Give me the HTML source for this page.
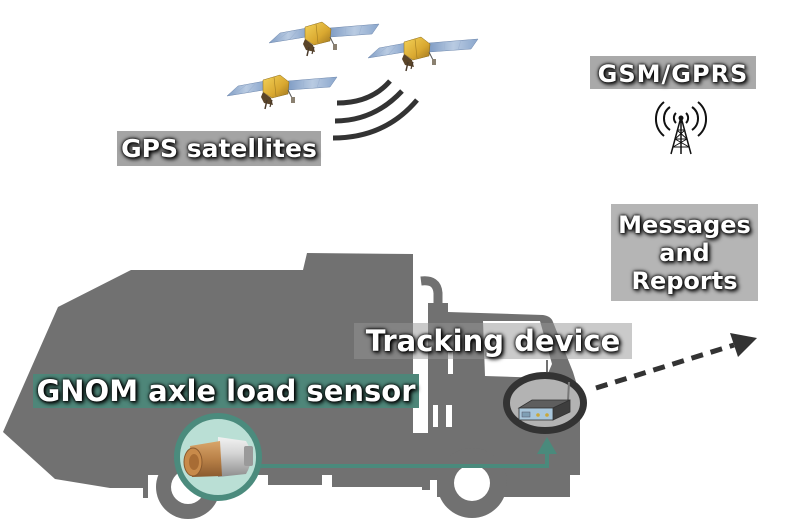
<!DOCTYPE html>
<html><head><meta charset="utf-8">
<style>
html,body{margin:0;padding:0;background:#fff;}
#wrap{position:relative;width:800px;height:525px;overflow:hidden;background:#fff;}
svg{position:absolute;left:0;top:0;}
.lbl{position:absolute;font-family:"DejaVu Sans","Liberation Sans",sans-serif;font-weight:bold;color:#fff;text-align:center;white-space:nowrap;
text-shadow:0 0 2px #000,0 0 4px #000,2px 2px 4px #000;}
</style></head><body>
<div id="wrap">
<svg width="800" height="525" viewBox="0 0 800 525">
<defs>
<linearGradient id="pan" x1="0" y1="0" x2="1" y2="0">
<stop offset="0" stop-color="#7f9cc4"/><stop offset="0.5" stop-color="#b9cbe2"/><stop offset="1" stop-color="#8aa6cc"/>
</linearGradient>
<linearGradient id="gold" x1="0" y1="0" x2="1" y2="1">
<stop offset="0" stop-color="#f4d35a"/><stop offset="0.6" stop-color="#d9a830"/><stop offset="1" stop-color="#9c7420"/>
</linearGradient>
<linearGradient id="silver" x1="0" y1="0" x2="0" y2="1">
<stop offset="0" stop-color="#f2f2f2"/><stop offset="0.4" stop-color="#d5d5d5"/><stop offset="1" stop-color="#8d8d8d"/>
</linearGradient>
<linearGradient id="brass" x1="0" y1="0" x2="0" y2="1">
<stop offset="0" stop-color="#d9a66a"/><stop offset="0.5" stop-color="#b98148"/><stop offset="1" stop-color="#8a5a2e"/>
</linearGradient>
<g id="sat">
<polygon points="-49,8 -38,-2 -11,-7 -12,2" fill="url(#pan)" stroke="#6f88ad" stroke-width="0.5"/>
<line x1="-40" y1="5" x2="-30" y2="-3" stroke="#9fb4d2" stroke-width="0.6"/>
<line x1="-28" y1="4" x2="-20" y2="-5" stroke="#9fb4d2" stroke-width="0.6"/>
<polygon points="12,-7 61,-11 54,-1 12,2" fill="url(#pan)" stroke="#6f88ad" stroke-width="0.5"/>
<line x1="28" y1="-8" x2="27" y2="1" stroke="#9fb4d2" stroke-width="0.6"/>
<line x1="44" y1="-10" x2="41" y2="0" stroke="#9fb4d2" stroke-width="0.6"/>
<polygon points="-13,4 -5,10 -3,17 -12,15 -15,9" fill="#5a4428"/>
<line x1="-9" y1="12" x2="-11" y2="21" stroke="#4a3a2a" stroke-width="1.5"/>
<line x1="-4" y1="12" x2="-6" y2="19" stroke="#4a3a2a" stroke-width="1.2"/>
<polygon points="-13,-8 4,-13 13,-6 12,6 -4,10 -13,4" fill="url(#gold)" stroke="#8a6a1a" stroke-width="0.5"/>
<line x1="-2" y1="-11" x2="0" y2="8" stroke="#a07c22" stroke-width="0.6"/>
<line x1="12" y1="2" x2="17" y2="12" stroke="#555" stroke-width="1"/>
<rect x="15" y="9" width="4" height="6" fill="#8a8070"/>
</g>
</defs>

<!-- Truck silhouette -->
<g fill="#717171">
<path d="M3,432 L58,307 L131,270 L303,270 L307,253 L413,254 L413,475 L143,475 L143,488 L110,488 L55,479 Z"/>
<rect x="143" y="475" width="5" height="23"/>
<rect x="400" y="433" width="180" height="42"/>
<rect x="268" y="475" width="54" height="10"/>
<rect x="332" y="475" width="90" height="12"/>
<rect x="422" y="475" width="8" height="15"/>
<path d="M428,303 L448,303 L448,312 L543,315 Q551,316 553,322 L573,372 L580,395 L580,443 L573,443 L573,457 L570,457 L570,497 L437,497 L437,480 L428,480 Z"/>
<circle cx="188" cy="487" r="32"/>
<circle cx="472" cy="483" r="35"/>
</g>
<path d="M421,281 Q437,279 438,293 L438,306" stroke="#717171" stroke-width="9" fill="none"/>
<g fill="#fff">
<circle cx="188" cy="487" r="17"/>
<circle cx="472" cy="483" r="18"/>
<rect x="448" y="352" width="5" height="22"/>
<rect x="433" y="405" width="5" height="22"/>
<rect x="446" y="405" width="6" height="22"/>
<polygon points="483,321 540,321 552,364 546,378 485,376"/>
</g>
<line x1="547" y1="360" x2="547" y2="372" stroke="#717171" stroke-width="2"/>

<!-- green connector -->
<line x1="258" y1="466" x2="549" y2="466" stroke="#4a8a7c" stroke-width="4"/>
<line x1="547" y1="468" x2="547" y2="452" stroke="#4a8a7c" stroke-width="4"/>
<polygon points="547,437 537,454 557,454" fill="#4a8a7c"/>

<!-- sensor circle -->
<circle cx="218" cy="457" r="41" fill="#badfd5" stroke="#4b8b7d" stroke-width="6"/>
<path d="M218,437 L246,441 Q256,457 246,474 L218,477 Z" fill="url(#silver)"/>
<rect x="244" y="446" width="9" height="20" rx="2" fill="#9a9a9a"/>
<path d="M190,446 L220,441 L222,476 L192,477 Z" fill="url(#brass)"/>
<ellipse cx="193" cy="462" rx="9" ry="14" fill="#c88a4a" stroke="#8a5a2e" stroke-width="1"/>
<ellipse cx="194" cy="462" rx="5" ry="8" fill="#a86c34"/>

<!-- tracking device ellipse -->
<ellipse cx="545" cy="403" rx="38.5" ry="27.5" fill="#b3b3b3" stroke="#333" stroke-width="7"/>
<line x1="568" y1="401" x2="569" y2="382" stroke="#777" stroke-width="2"/>
<polygon points="519,408 532,400 570,400 553,408" fill="#5e5e5e" stroke="#333" stroke-width="0.8"/>
<polygon points="553,408 570,400 570,412 553,420" fill="#3e3e3e" stroke="#333" stroke-width="0.8"/>
<rect x="519" y="408" width="34" height="12" fill="#a9c7dc" stroke="#333" stroke-width="0.8"/>
<rect x="522" y="412" width="8" height="5" fill="#7f9fb5" stroke="#556" stroke-width="0.5"/>
<circle cx="538" cy="415" r="1.8" fill="#c9a83a"/>
<circle cx="547" cy="415" r="1.8" fill="#c9a83a"/>

<!-- dashed arrow -->
<line x1="596" y1="388" x2="734" y2="345" stroke="#333" stroke-width="5" stroke-dasharray="12 8"/>
<polygon points="757,338 730,333 738,357" fill="#333"/>

<!-- satellites -->
<use href="#sat" transform="translate(318,35)"/>
<use href="#sat" transform="translate(417,50)"/>
<use href="#sat" transform="translate(276,88)"/>

<!-- signal arcs -->
<g stroke="#333" stroke-width="5" fill="none" stroke-linecap="butt">
<path d="M337,103 Q371,103 390,81"/>
<path d="M335,121 Q374,121 402,91"/>
<path d="M333,138 Q385,138 417,100"/>
</g>

<!-- antenna tower -->
<g stroke="#111" stroke-width="2" fill="none">
<path d="M676,113 A7,7 0 0 0 676,123"/>
<path d="M686,113 A7,7 0 0 1 686,123"/>
<path d="M670,107 A14,14 0 0 0 670,130"/>
<path d="M692,107 A14,14 0 0 1 692,130"/>
<path d="M664,102 A22,22 0 0 0 664,136"/>
<path d="M698,102 A22,22 0 0 1 698,136"/>
<path d="M681,117 L671,154 M681,117 L691,154 M681,117 L681,154" stroke-width="1.5"/>
<path d="M677,130 L685,130 M675,139 L687,139 M673,147 L689,147 M677,130 L687,139 M685,130 L675,139 M675,139 L689,147 M687,139 L673,147" stroke-width="1"/>
</g>
<circle cx="681" cy="118" r="2.5" fill="#111"/>
</svg>

<div class="lbl" style="left:117px;top:131px;width:204px;height:35px;background:#a4a4a4;font-size:25px;line-height:35px;">GPS satellites</div>
<div class="lbl" style="left:590px;top:56px;width:166px;height:33px;background:#a9a9a9;font-size:24px;line-height:37px;letter-spacing:1px;">GSM/GPRS</div>
<div class="lbl" style="left:611px;top:204px;width:147px;height:90px;padding-top:7px;background:#b5b5b5;font-size:24px;line-height:28px;">Messages<br>and<br>Reports</div>
<div class="lbl" style="left:354px;top:323px;width:278px;height:36px;background:rgba(150,150,150,0.5);font-size:29px;line-height:36px;">Tracking device</div>
<div class="lbl" style="left:33px;top:374px;width:386px;height:34px;background:#4e8679;font-size:29px;line-height:34px;">GNOM axle load sensor</div>
</div>
</body></html>
